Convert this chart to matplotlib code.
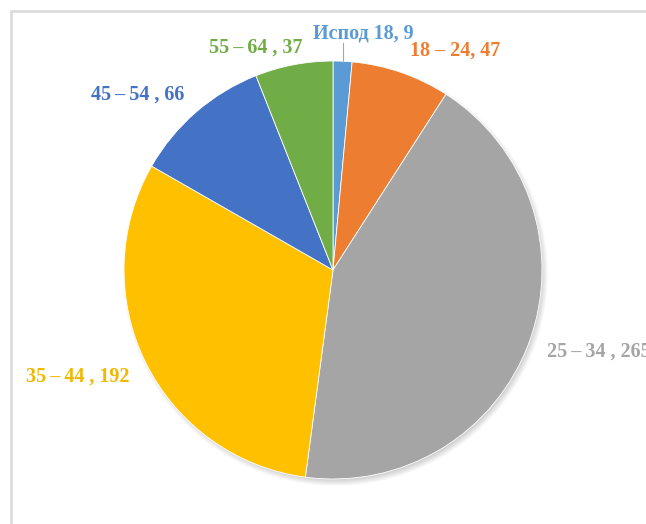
import numpy as np
import matplotlib
matplotlib.use("Agg")
import matplotlib.pyplot as plt
from matplotlib.patches import Rectangle

# Age groups and counts
labels = ["Испод 18", "18 – 24", "25\u2009–\u200934 ", "35\u2009–\u200944 ",
          "45\u2009–\u200954 ", "55\u2009–\u200964 "]
values = [9, 47, 265, 192, 66, 37]
colors = ["#5B9BD5", "#ED7D31", "#A5A5A5", "#FFC000", "#4472C4", "#70AD47"]
label_colors = ["#5B9BD5", "#ED7D31", "#A5A5A5", "#F2B800", "#4472C4", "#70AD47"]

W, H = 646, 524
fig = plt.figure(figsize=(W / 100, H / 100), dpi=100)
ax = fig.add_axes([0, 0, 1, 1])
ax.set_xlim(0, W)
ax.set_ylim(0, H)
ax.set_aspect("equal")
ax.axis("off")

# chart frame
ax.add_patch(Rectangle((11, -20), W + 40, H - 11 + 20, fill=False,
                       edgecolor="#D9D9D9", linewidth=1.8, zorder=0))

cx, cy, r = 333, H - 270, 209

# soft drop shadow under the pie
yy, xx = np.mgrid[0:H, 0:W]
d = np.hypot(xx - (cx + 2), (H - yy) - (cy - 3))
sigma = 3.0
shadow = np.clip(0.5 - (d - r) / (2.5 * sigma), 0, 1)
rgba = np.zeros((H, W, 4))
rgba[..., :3] = 0.45
rgba[..., 3] = shadow * 0.35
ax.imshow(rgba, extent=(0, W, 0, H), origin="upper", zorder=1, interpolation="bilinear")

ax.pie(values, colors=colors, startangle=90, counterclock=False,
       center=(cx, cy), radius=r, frame=True,
       wedgeprops=dict(linewidth=0.6, edgecolor="white", zorder=2))
ax.set_xlim(0, W)
ax.set_ylim(0, H)
ax.axis("off")

font = dict(family=["Liberation Serif", "DejaVu Serif"], fontweight="bold", fontsize=14.5)

# label placement (pixel positions, ha)
places = [
    ((363, 34), "center"),
    ((455, 51), "center"),
    ((547, 352), "left"),
    ((78, 377), "center"),
    ((138, 95), "center"),
    ((256, 48), "center"),
]
for lab, v, col, (pos, ha) in zip(labels, values, label_colors, places):
    ax.text(pos[0], H - pos[1], f"{lab}, {v}", color=col, ha=ha, va="center",
            zorder=4, **font)

# leader line for the smallest slice
ax.plot([343, 343], [H - 43, H - 62], color="#A6A6A6", linewidth=0.8, zorder=3)

fig.savefig("out.png", dpi=100)
